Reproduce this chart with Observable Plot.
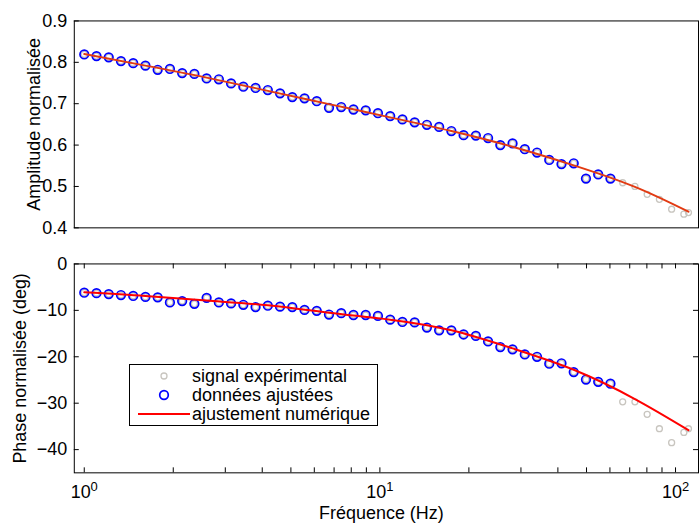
<!DOCTYPE html>
<html>
<head>
<meta charset="utf-8">
<script src="https://cdn.jsdelivr.net/npm/d3@7"></script>
<script src="https://cdn.jsdelivr.net/npm/@observablehq/plot@0.6"></script>
<style>
html, body { margin: 0; padding: 0; background: #fff; overflow: hidden; width: 699px; height: 524px; }
#wrap { position: relative; width: 699px; height: 524px; font-family: "Liberation Sans", Arial, Helvetica, sans-serif; }
#topPanel, #bottomPanel { position: absolute; left: 0; }
#topPanel { top: 0; }
#bottomPanel { top: 240px; }
#legend { position: absolute; left: 129px; top: 364px; width: 249px; height: 62px; border: 1px solid #000; background: #fff; font-size: 18px; color: #000; box-sizing: border-box; }
#legend .row { position: absolute; left: 0; height: 20px; line-height: 20px; }
#legend .sym { position: absolute; left: 4px; top: 0; width: 56px; height: 20px; }
#legend .lab { position: absolute; left: 62px; top: 0; white-space: nowrap; }
</style>
</head>
<body>
<div id="wrap">
  <div id="topPanel"></div>
  <div id="bottomPanel"></div>
  <div id="legend"></div>
</div>
<script>
// ---- data ----
const freq = [1, 1.1, 1.21, 1.331, 1.4641, 1.6105, 1.7716, 1.9487, 2.1436, 2.3579,
  2.5937, 2.8531, 3.1384, 3.4523, 3.7975, 4.1772, 4.595, 5.0545, 5.5599, 6.1159,
  6.7275, 7.4002, 8.1403, 8.9543, 9.8497, 10.835, 11.918, 13.11, 14.421, 15.863,
  17.449, 19.194, 21.114, 23.225, 25.548, 28.102, 30.913, 34.004, 37.404, 41.145,
  45.259, 49.785, 54.764, 60.24, 66.264, 72.89, 80.18, 88.197, 97.017, 106.72, 110.6];
const amplitude = [0.819, 0.815, 0.812, 0.803, 0.798, 0.792, 0.782, 0.784, 0.774, 0.772,
  0.761, 0.759, 0.749, 0.741, 0.738, 0.733, 0.725, 0.716, 0.713, 0.706,
  0.690, 0.692, 0.686, 0.684, 0.677, 0.670, 0.662, 0.655, 0.649, 0.644,
  0.634, 0.624, 0.623, 0.617, 0.600, 0.604, 0.590, 0.582, 0.564, 0.554,
  0.556, 0.519, 0.529, 0.519, 0.509, 0.500, 0.481, 0.469, 0.445, 0.433, 0.437];
const phase = [-6.2, -6.3, -6.5, -6.7, -6.9, -7.1, -7.2, -8.3, -8.0, -8.6,
  -7.3, -8.3, -8.5, -8.8, -9.3, -9.0, -9.2, -9.3, -9.9, -10.1,
  -10.9, -10.6, -11.0, -11.0, -11.2, -12.0, -12.5, -12.6, -13.7, -14.3,
  -14.3, -15.2, -15.5, -16.7, -17.9, -18.4, -19.5, -20.0, -21.5, -21.4,
  -23.3, -24.9, -25.4, -25.8, -29.7, -29.7, -32.4, -35.5, -38.5, -36.3, -35.5];
const nAdjusted = 44; // first points used for the fit ("données ajustées")
const fitFreq = [1, 1.6105, 2.5937, 4.1772, 6.7275, 10.835, 17.449, 28.102, 45.259, 72.89, 110.6];
const fitAmplitude = [0.820, 0.792, 0.763, 0.731, 0.699, 0.667, 0.634, 0.596, 0.551, 0.499, 0.439];
const fitPhase = [-6.1, -6.9, -7.9, -8.9, -10.5, -12.0, -14.3, -18.2, -22.8, -29.1, -35.8];
const xMajorTicks = [1, 10, 100];
const xMinorTicks = [2, 3, 4, 5, 6, 7, 8, 9, 20, 30, 40, 50, 60, 70, 80, 90];
const xExponents = ["0", "1", "2"];
const ampTicks = [0.4, 0.5, 0.6, 0.7, 0.8, 0.9];
const phaseTicks = [-40, -30, -20, -10, 0];
const legendLabels = ["signal expérimental", "données ajustées", "ajustement numérique"];
const ampLabel = "Amplitude normalisée";
const phaseLabel = "Phase normalisée (deg)";
const freqLabel = "Fréquence (Hz)";

// ---- styles ----
const FONT = 18;
const GREY = "#c8c5bf";
const BLUE = "#0000ff";
const RED = "#ff0000";
const ORANGE = "#e23a12";
const X_DOMAIN = [0.9253, 119.6];
const W = 701, ML = 74, MR = 1;

const experimental = freq.map((f, i) => ({f, a: amplitude[i], p: phase[i]}));
const adjusted = experimental.slice(0, nAdjusted);
const fitA = fitFreq.map((f, i) => ({f, v: fitAmplitude[i]}));
const fitP = fitFreq.map((f, i) => ({f, v: fitPhase[i]}));

function panel({key, domain, ticks, fmt, height, mt, mb, fit, fitColor, label, labelDx, xTicksTop, xTicksBottom, rightTicks, xAxis}) {
  const [lo, hi] = domain;
  const innerH = height - mt - mb;
  const innerW = W - ML - MR;
  const decade = innerW / Math.log10(X_DOMAIN[1] / X_DOMAIN[0]);
  const tl = 5;
  const dy = tl / innerH * (hi - lo);
  const kx = Math.pow(10, tl / decade);
  const xt = xMajorTicks.concat(xMinorTicks);
  const marks = [
    Plot.frame({stroke: "#000", strokeWidth: 1}),
    Plot.ruleY(ticks, {y: d => d, x1: X_DOMAIN[0], x2: X_DOMAIN[0] * kx, stroke: "#000"}),
    Plot.axisY(ticks, {tickSize: 0, tickPadding: 7, tickFormat: fmt, fontSize: FONT, label: null, fill: "#000"}),
    Plot.dot(experimental, {x: "f", y: key, r: 3, stroke: GREY, strokeWidth: 1.3}),
    Plot.dot(adjusted, {x: "f", y: key, r: 4.3, stroke: BLUE, strokeWidth: 1.7}),
    Plot.line(fit, {x: "f", y: "v", stroke: fitColor, strokeWidth: 2, curve: "natural"}),
    Plot.text([label], {frameAnchor: "left", textAnchor: "middle", lineAnchor: "middle", rotate: -90, dx: labelDx, fontSize: FONT, fill: "#000"})
  ];
  if (rightTicks) marks.push(Plot.ruleY(ticks, {y: d => d, x1: X_DOMAIN[1], x2: X_DOMAIN[1] / kx, stroke: "#000"}));
  if (xTicksBottom) marks.push(Plot.ruleX(xt, {x: d => d, y1: lo, y2: lo + dy, stroke: "#000"}));
  if (xTicksTop) marks.push(Plot.ruleX(xt, {x: d => d, y1: hi, y2: hi - dy, stroke: "#000"}));
  if (xAxis) {
    marks.push(Plot.axisX(xMajorTicks, {tickSize: 0, tickPadding: 12, fontSize: FONT, label: null, fill: "#000", tickFormat: d => "10"}));
    marks.push(Plot.text([freqLabel], {frameAnchor: "bottom", textAnchor: "middle", lineAnchor: "middle", dy: 41, dx: -5, fontSize: FONT, fill: "#000"}));
  } else {
    marks.push(Plot.axisX({ticks: [], label: null, tickSize: 0}));
  }
  return Plot.plot({
    width: W, height,
    marginLeft: ML, marginRight: MR, marginTop: mt, marginBottom: mb,
    style: {fontFamily: '"Liberation Sans", Arial, Helvetica, sans-serif', background: "transparent", overflow: "visible"},
    x: {type: "log", domain: X_DOMAIN},
    y: {domain, ticks},
    marks
  });
}

const ampPlot = panel({
  key: "a", domain: [0.4, 0.9], ticks: ampTicks, fmt: d => d.toFixed(1),
  height: 240, mt: 20.5, mb: 12, fit: fitA, fitColor: ORANGE,
  label: ampLabel, labelDx: -40, xTicksTop: false, xTicksBottom: false, rightTicks: false, xAxis: false
});
const phasePlot = panel({
  key: "p", domain: [-45, 0], ticks: phaseTicks, fmt: d => d === 0 ? "0" : "\u2212" + Math.abs(d),
  height: 284, mt: 23.5, mb: 51, fit: fitP, fitColor: RED,
  label: phaseLabel, labelDx: -54, xTicksTop: true, xTicksBottom: true, rightTicks: true, xAxis: true
});
document.getElementById("topPanel").appendChild(ampPlot);
document.getElementById("bottomPanel").appendChild(phasePlot);

// superscript exponents on the x tick labels
const xl = phasePlot.querySelectorAll('g[aria-label="x-axis tick label"] text');
xl.forEach((t, i) => {
  const ns = "http://www.w3.org/2000/svg";
  const sp = document.createElementNS(ns, "tspan");
  sp.setAttribute("dy", "-0.5em");
  sp.setAttribute("font-size", "13");
  sp.textContent = xExponents[i];
  t.appendChild(sp);
});

// legend
const leg = document.getElementById("legend");
const symbols = [
  `<svg width="56" height="20"><circle cx="30" cy="10" r="3" fill="none" stroke="${GREY}" stroke-width="1.3"/></svg>`,
  `<svg width="56" height="20"><circle cx="30" cy="10" r="4.3" fill="none" stroke="${BLUE}" stroke-width="1.7"/></svg>`,
  `<svg width="56" height="20"><line x1="4" x2="56" y1="10" y2="10" stroke="${RED}" stroke-width="2"/></svg>`
];
legendLabels.forEach((lab, i) => {
  const row = document.createElement("div");
  row.className = "row";
  row.style.top = (1 + i * 19) + "px";
  row.innerHTML = `<span class="sym">${symbols[i]}</span><span class="lab">${lab}</span>`;
  leg.appendChild(row);
});
</script>
</body>
</html>
